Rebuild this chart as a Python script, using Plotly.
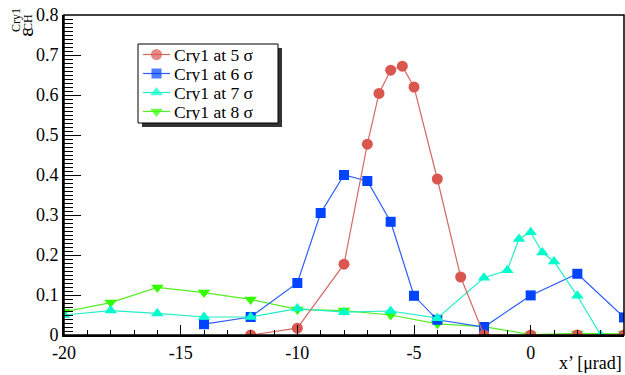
import plotly.graph_objects as go

x5 = [-12, -10, -8, -7, -6.5, -6, -5.5, -5, -4, -3, -2, 0, 2, 4]
y5 = [0.0, 0.017, 0.177, 0.477, 0.604, 0.662, 0.672, 0.620, 0.390, 0.145, 0.0, 0.0, 0.0, 0.0]

x6 = [-14, -12, -10, -9, -8, -7, -6, -5, -4, -2, 0, 2, 4]
y6 = [0.027, 0.045, 0.130, 0.305, 0.400, 0.385, 0.283, 0.098, 0.038, 0.020, 0.099, 0.153, 0.044]

x7 = [-20, -18, -16, -14, -12, -10, -8, -6, -4, -2, -1, -0.5, 0, 0.5, 1, 2, 3]
y7 = [0.050, 0.061, 0.054, 0.045, 0.045, 0.066, 0.057, 0.060, 0.042, 0.143, 0.162, 0.240, 0.257, 0.206, 0.184, 0.098, 0.0]

x8 = [-20, -18, -16, -14, -12, -10, -8, -6, -4, -2, 0, 2, 4]
y8 = [0.058, 0.081, 0.119, 0.106, 0.089, 0.064, 0.061, 0.050, 0.028, 0.021, 0.001, 0.004, 0.003]

names = ["Cry1 at 5 σ", "Cry1 at 6 σ", "Cry1 at 7 σ", "Cry1 at 8 σ"]

xtickvals = [-20, -15, -10, -5, 0]
xticktext = ["-20", "-15", "-10", "-5", "0"]
ytickvals = [0, 0.1, 0.2, 0.3, 0.4, 0.5, 0.6, 0.7, 0.8]
yticktext = ["0", "0.1", "0.2", "0.3", "0.4", "0.5", "0.6", "0.7", "0.8"]

FONT = "Liberation Serif, Times New Roman, serif"

# plot-area geometry in page pixels
L, R, T, B = 64, 624, 15, 335
def px(xp):
    return (xp - L) / (R - L)
def py(yp):
    return (B - yp) / (B - T)

styles = {
    names[0]: dict(mcol="#d9574f", lcol="#d46a62", symbol="circle", size=11),
    names[1]: dict(mcol="#0044ff", lcol="#2a5cff", symbol="square", size=10),
    names[2]: dict(mcol="#00ffcc", lcol="#22eec8", symbol="triangle-up", size=11),
    names[3]: dict(mcol="#33ff00", lcol="#55ee22", symbol="triangle-down", size=11),
}

fig = go.Figure()

def add(xs, ys, name):
    s = styles[name]
    fig.add_trace(go.Scatter(
        x=xs, y=ys, name=name, mode="lines+markers", showlegend=False,
        line=dict(color=s["lcol"], width=1.2),
        marker=dict(color=s["mcol"], symbol=s["symbol"], size=s["size"], line=dict(width=0)),
    ))

add(x8, y8, names[3])
add(x6, y6, names[1])
add(x7, y7, names[2])
add(x5, y5, names[0])

axis_common = dict(
    showgrid=False, zeroline=False, showline=True, linecolor="black", linewidth=2,
    ticks="inside", tickcolor="black", tickwidth=1.2, automargin=False,
    tickfont=dict(family=FONT, size=18, color="black"),
)

fig.update_xaxes(
    range=[-20, 4], tickvals=xtickvals, ticktext=xticktext, ticklen=10,
    minor=dict(dtick=1, ticklen=5, ticks="inside", tickcolor="black", tickwidth=1.2),
    **axis_common,
)
fig.update_yaxes(
    range=[0, 0.8], tickvals=ytickvals, ticktext=yticktext, ticklen=17,
    minor=dict(dtick=0.01, ticklen=9, ticks="inside", tickcolor="black", tickwidth=1.2),
    **axis_common,
)

# ---- custom legend (ROOT TLegend look) ----
LEG_X0, LEG_X1, LEG_Y0, LEG_Y1 = 138, 278, 44, 123
ROW0, ROWSTEP = 54.5, 19
SEG_X0, SEG_X1, TXT_X = 143, 170, 173

# overlay axes in page-pixel units for legend glyphs
fig.update_layout(
    xaxis2=dict(overlaying="x", anchor="y2", range=[L, R], visible=False, fixedrange=True),
    yaxis2=dict(overlaying="y", anchor="x2", range=[B, T], visible=False, fixedrange=True),
)

# shadow + box
fig.add_shape(type="rect", xref="paper", yref="paper",
              x0=px(LEG_X0 + 4), x1=px(LEG_X1 + 4), y0=py(LEG_Y1 + 4), y1=py(LEG_Y0 + 4),
              fillcolor="#333333", line=dict(width=0), layer="below")
fig.add_shape(type="rect", xref="paper", yref="paper",
              x0=px(LEG_X0), x1=px(LEG_X1), y0=py(LEG_Y1), y1=py(LEG_Y0),
              fillcolor="white", line=dict(color="black", width=1), layer="below")

annotations = []
for i, name in enumerate(names):
    s = styles[name]
    yr = ROW0 + i * ROWSTEP
    xm = (SEG_X0 + SEG_X1) / 2
    fig.add_trace(go.Scatter(
        x=[SEG_X0, xm, SEG_X1], y=[yr, yr, yr], xaxis="x2", yaxis="y2",
        mode="lines+markers", showlegend=False, hoverinfo="skip",
        line=dict(color=s["lcol"], width=1.2),
        marker=dict(color=s["mcol"], symbol=s["symbol"], size=[0, s["size"], 0], line=dict(width=0)),
    ))
    annotations.append(dict(
        text=name, xref="paper", yref="paper", x=px(TXT_X), y=py(yr),
        xanchor="left", yanchor="middle", showarrow=False, height=17, borderpad=0,
        font=dict(family=FONT, size=17.5, color="black"),
    ))

# frame
fig.add_shape(type="rect", xref="paper", yref="paper", x0=0, y0=0, x1=1, y1=1,
              line=dict(color="black", width=1.5), layer="above")

annotations += [
    dict(text="ε", xref="paper", yref="paper", x=px(25), y=py(33),
         showarrow=False, textangle=-90, xanchor="center", yanchor="middle",
         font=dict(family=FONT, size=22, color="black")),
    dict(text="Cry1", xref="paper", yref="paper", x=px(16), y=py(20),
         showarrow=False, textangle=-90, xanchor="center", yanchor="middle",
         font=dict(family=FONT, size=12, color="black")),
    dict(text="CH", xref="paper", yref="paper", x=px(28), y=py(23),
         showarrow=False, textangle=-90, xanchor="center", yanchor="middle",
         font=dict(family=FONT, size=12, color="black")),
    dict(text="x’ [μrad]", xref="paper", yref="paper", x=1, y=py(363),
         showarrow=False, xanchor="right", yanchor="middle",
         font=dict(family=FONT, size=18, color="black")),
]

fig.update_layout(
    width=625, height=375,
    margin=dict(l=L, r=625 - R, t=T, b=375 - B),
    paper_bgcolor="white", plot_bgcolor="white",
    showlegend=False,
    annotations=annotations,
)

fig.write_html("out.html", config={"displayModeBar": False},
               post_script="document.body.style.margin='0';")
